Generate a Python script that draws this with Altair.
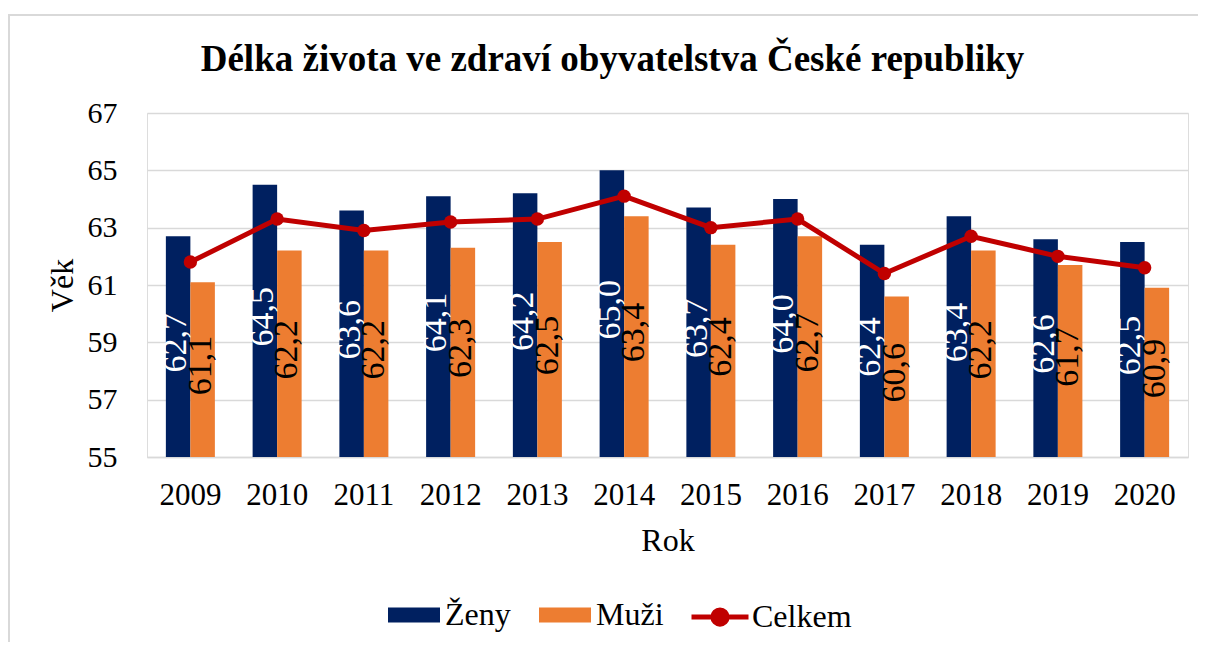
import altair as alt
import pandas as pd

years = ["2009", "2010", "2011", "2012", "2013", "2014", "2015", "2016", "2017", "2018", "2019", "2020"]
zeny = [62.7, 64.5, 63.6, 64.1, 64.2, 65.0, 63.7, 64.0, 62.4, 63.4, 62.6, 62.5]
muzi = [61.1, 62.2, 62.2, 62.3, 62.5, 63.4, 62.4, 62.7, 60.6, 62.2, 61.7, 60.9]
celkem = [61.8, 63.3, 62.9, 63.2, 63.3, 64.1, 63.0, 63.3, 61.4, 62.7, 62.0, 61.6]
series = ["Ženy", "Muži"]
colors = ["#002060", "#ED7D31"]
line_color = "#C00000"
y_ticks = [55, 57, 59, 61, 63, 65, 67]

FONT = "Liberation Serif"
W, H = 1041, 344

bars_df = pd.DataFrame(
    {"year": years * 2, "series": ["Ženy"] * 12 + ["Muži"] * 12, "value": zeny + muzi}
)
line_df = pd.DataFrame({"year": years, "value": celkem, "s": ["Celkem"] * 12})

x_enc = alt.X(
    "year:N",
    sort=years,
    scale=alt.Scale(paddingInner=0.435, paddingOuter=0.2175),
    axis=alt.Axis(
        title="Rok",
        labelAngle=0,
        labelFont=FONT,
        labelFontSize=31,
        labelColor="black",
        labelPadding=23,
        ticks=False,
        tickSize=0,
        domainColor="#D9D9D9",
        domainWidth=1.5,
        grid=False,
        titleFont=FONT,
        titleFontSize=32,
        titleFontWeight="normal",
        titleColor="black",
        titleX=W / 2,
        titleY=83,
        titleBaseline="middle",
        titleAlign="center",
    ),
)
y_scale = alt.Scale(domain=[55, 67], nice=False, zero=False)
y_axis = alt.Axis(
    title="Věk",
    values=y_ticks,
    labelFont=FONT,
    labelFontSize=30,
    labelColor="black",
    labelPadding=30,
    ticks=False,
    tickSize=0,
    domain=False,
    gridColor="#D9D9D9",
    gridWidth=1.5,
    titleFont=FONT,
    titleFontSize=32,
    titleFontWeight="normal",
    titleColor="black",
    titleAngle=270,
    titleX=-85,
    titleY=H / 2,
    titleBaseline="middle",
    titleAlign="center",
)

base = alt.Chart(bars_df)

frame = alt.Chart(pd.DataFrame({"k": [0]})).mark_rect(
    filled=False, stroke="#D9D9D9", strokeWidth=2
).encode(
    x=alt.value(-138), x2=alt.value(W + 40), y=alt.value(-98), y2=alt.value(H + 300)
)

bars = base.mark_bar().encode(
    x=x_enc,
    xOffset=alt.XOffset("series:N", sort=series),
    y=alt.Y("value:Q", scale=y_scale, axis=y_axis),
    y2=alt.datum(55),
    color=alt.Color(
        "series:N",
        sort=series,
        scale=alt.Scale(domain=series, range=colors),
        legend=alt.Legend(
            title=None,
            orient="none",
            direction="horizontal",
            legendX=241,
            legendY=476,
            symbolType="M-1,-0.29H1V0.29H-1Z",
            symbolSize=2704,
            symbolStrokeWidth=0,
            labelFont=FONT,
            labelFontSize=32,
            labelColor="black",
            labelOffset=5,
            columnPadding=28,
            padding=0,
        ),
    ),
)

labels = base.transform_calculate(
    mid="(datum.value + 55) / 2",
    label="replace(format(datum.value, '.1f'), '.', ',')",
).mark_text(
    angle=270, align="center", baseline="middle", font=FONT, fontSize=34, dy=-2, dx=4
).encode(
    x=alt.X("year:N", sort=years),
    xOffset=alt.XOffset("series:N", sort=series),
    y=alt.Y("mid:Q"),
    text="label:N",
    color=alt.condition(alt.datum.series == "Ženy", alt.value("white"), alt.value("black")),
)

line = alt.Chart(line_df).mark_line(strokeWidth=5).encode(
    x=alt.X("year:N", sort=years),
    y=alt.Y("value:Q"),
    stroke=alt.Stroke(
        "s:N",
        scale=alt.Scale(domain=["Celkem"], range=[line_color]),
        legend=alt.Legend(
            title=None,
            orient="none",
            direction="horizontal",
            legendX=542,
            legendY=473,
            symbolType="M-1,0H1M0.25,0A0.25,0.25,0,1,1,-0.25,0A0.25,0.25,0,1,1,0.25,0Z",
            symbolSize=3249,
            symbolStrokeWidth=5,
            symbolFillColor=line_color,
            labelFont=FONT,
            labelFontSize=32,
            labelColor="black",
            labelOffset=1,
            padding=0,
        ),
    ),
)

points = alt.Chart(line_df).mark_circle(size=180, color=line_color, opacity=1).encode(
    x=alt.X("year:N", sort=years),
    y=alt.Y("value:Q"),
)

chart = (
    alt.layer(frame, bars, labels, line, points)
    .properties(
        width=W,
        height=H,
        autosize=alt.AutoSizeParams(type="none"),
        padding={"left": 139, "top": 105, "right": 10, "bottom": 185},
        title=alt.Title(
            "Délka života ve zdraví obyvatelstva České republiky",
            font=FONT,
            fontSize=37,
            fontWeight="bold",
            color="black",
            anchor="middle",
            frame="group",
            dx=-55,
            baseline="alphabetic",
            offset=-94,
        ),
    )
    .resolve_scale(color="independent")
    .configure_view(stroke=None)
    .configure(background="white")
)

chart.save("out.html", embed_options={"renderer": "svg", "actions": False})
